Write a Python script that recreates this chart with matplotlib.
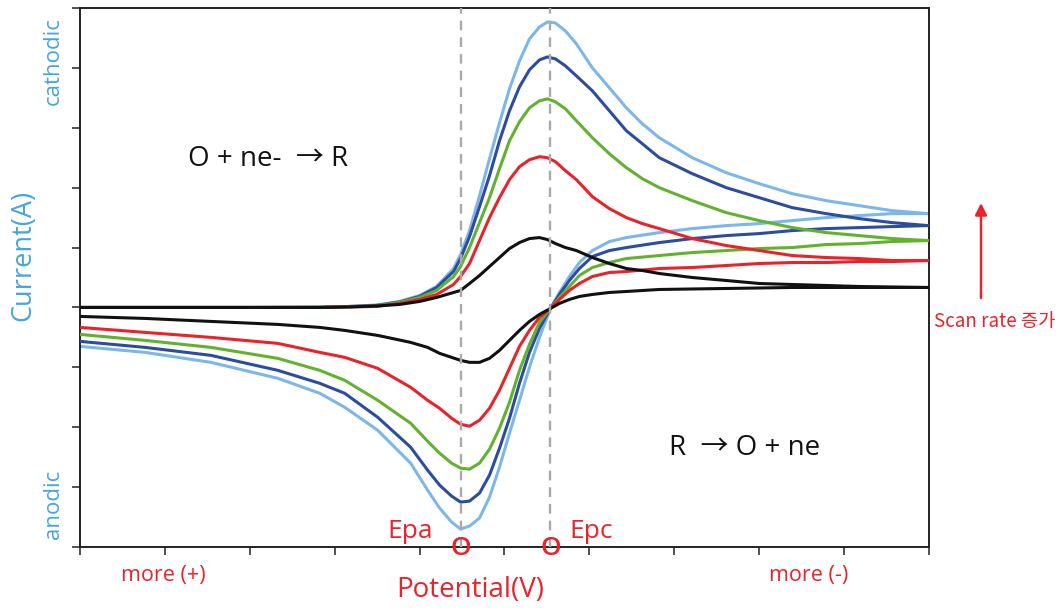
import matplotlib
matplotlib.use("Agg")
import matplotlib.pyplot as plt
from matplotlib.patches import FancyArrowPatch

plt.rcParams['font.family'] = ['Open Sans', 'Noto Sans CJK KR', 'DejaVu Sans']
plt.rcParams['lines.scale_dashes'] = False

# ---------------- data (arbitrary units) ----------------
# forward (cathodic) sweep: potential goes from "more (+)" (left) to "more (-)" (right)
potential_fwd = [0, 85, 170, 240, 270, 297, 320, 340, 357, 374, 381, 390, 400, 410, 420,
                 430, 440, 450, 460, 468, 476, 486, 497, 513, 530, 547, 563, 580, 613,
                 647, 680, 713, 747, 780, 813, 849]
fwd_rate5 = [0, 0, 0, 0.2, 1, 2.5, 6, 12, 21, 39, 53, 77, 112, 149, 185, 219, 247, 269,
             281, 286, 285, 277, 264, 240, 220, 200, 184, 170, 150, 135, 124, 114, 107,
             102, 97, 94]
fwd_rate4 = [0, 0, 0, 0.2, 1, 2, 5.5, 11, 20, 36, 49, 71, 101, 132, 167, 197, 221, 238,
             248, 251, 249, 242, 232, 217, 197, 177, 164, 150, 134, 120, 110, 100, 94,
             89, 85, 82]
fwd_rate3 = [0, 0, 0, 0.2, 0.8, 1.5, 5, 10, 17, 31, 41, 60, 85, 110, 139, 167, 186, 200,
             207, 209, 206, 199, 187, 170, 154, 140, 129, 120, 107, 95, 87, 80, 75,
             72, 69, 67]
fwd_rate2 = [0, 0, 0, 0, 0.5, 1, 4, 8, 13, 23, 31, 44, 67, 90, 110, 128, 141, 148,
             151, 150, 146, 137, 128, 111, 99, 90, 84, 79, 69, 62, 57, 52, 50,
             49, 47, 47]
fwd_rate1 = [0, 0, 0, 0, 0.5, 1.5, 3, 6, 10, 15, 17, 24, 32, 41, 50, 59, 65, 69,
             70, 68, 64, 60, 57, 50, 44, 39, 37, 34, 30, 27, 24, 23, 22,
             21, 20.5, 20]

# reverse (anodic) sweep
potential_rev = [0, 65, 131, 198, 240, 265, 298, 331, 348, 360, 372, 381, 390, 400, 410,
                 420, 430, 440, 450, 460, 471, 480, 490, 500, 513, 530, 547, 580, 613,
                 647, 680, 713, 747, 780, 813, 849]
rev_rate5 = [-39, -45, -55, -71, -86, -100, -123, -156, -183, -201, -215, -222, -219, -211,
             -190, -160, -126, -93, -60, -30, -1, 15, 31, 45, 57, 66, 70, 75, 79, 82,
             84, 87, 90, 92, 94, 94]
rev_rate4 = [-34, -40, -48, -63, -76, -86, -110, -140, -163, -178, -189, -195, -194, -186,
             -168, -141, -111, -76, -45, -21, -1, 13, 27, 39, 51, 57, 60, 65, 69, 72,
             74, 77, 79, 80, 81, 82]
rev_rate3 = [-27, -33, -40, -51, -63, -73, -93, -116, -134, -146, -156, -161, -162, -156,
             -142, -121, -95, -63, -37, -15, -1, 10, 21, 32, 40, 45, 49, 52, 55, 57,
             59, 60, 63, 64, 66, 67]
rev_rate2 = [-20, -25, -30, -36, -45, -50, -61, -80, -93, -101, -111, -117, -119, -113,
             -101, -83, -61, -39, -23, -10, -1, 8, 17, 24, 31, 35, 36, 39, 40, 42,
             44, 45, 45, 46, 46, 47]
rev_rate1 = [-9, -11, -14, -17, -20, -23, -28, -35, -40, -46, -50, -53, -55, -55,
             -51, -43, -33, -23, -14, -7, -1, 4, 8, 11, 13, 15, 16, 18, 18.5, 19,
             19.5, 20, 20, 20, 20, 20]

peak_potentials = [381, 471]          # Epa, Epc
peak_labels = ['Epa', 'Epc']
x_ticks = [0, 85, 170, 255, 340, 425, 510, 595, 680, 765, 850]
y_ticks = [-240, -180, -120, -60, 0, 60, 120, 180, 240, 300]

colors = {5: '#7db7e8', 4: '#2b4c9f', 3: '#62b22f', 2: '#e8232a', 1: '#111111'}

# ---------------- figure ----------------
fig = plt.figure(figsize=(10.63, 6.11), dpi=100)
ax = fig.add_axes([80 / 1063, 1 - 547 / 611, (929 - 80) / 1063, (547 - 8) / 611])

series = [(5, fwd_rate5, rev_rate5), (4, fwd_rate4, rev_rate4), (3, fwd_rate3, rev_rate3),
          (2, fwd_rate2, rev_rate2), (1, fwd_rate1, rev_rate1)]
z = 2
for k, f, r in series:
    ax.plot(potential_fwd, f, color=colors[k], lw=2.2, zorder=z,
            solid_joinstyle='round', solid_capstyle='round')
    ax.plot(potential_rev, r, color=colors[k], lw=2.2, zorder=z,
            solid_joinstyle='round', solid_capstyle='round')
    z += 1

for xp in peak_potentials:
    ax.axvline(xp, color='#aaaaaa', lw=1.7, dashes=(7, 5), zorder=10)

ax.set_xlim(0, 850)
ax.set_ylim(-240, 300)
ax.set_xticks(x_ticks)
ax.set_yticks(y_ticks)
ax.set_xticklabels([])
ax.set_yticklabels([])
ax.tick_params(direction='out', length=5.5, width=1.1, color='#222222')
for s in ax.spines.values():
    s.set_linewidth(1.4)
    s.set_color('#222222')

red_txt = '#e8232a'
blue_txt = '#45a5dd'

# peak markers on the axis
for xp in peak_potentials:
    ax.text(xp, -242, 'O', color=red_txt, fontsize=19, fontweight='semibold',
            ha='center', va='center', clip_on=False, zorder=12)
ax.text(331, -224, peak_labels[0], color=red_txt, fontsize=19, ha='center', va='center')
ax.text(512, -224, peak_labels[1], color=red_txt, fontsize=19, ha='center', va='center')

# reactions
ax.text(188, 149, 'O + ne-  → R', color='#111111', fontsize=20, ha='center', va='center')
ax.text(665, -141, 'R  → O + ne', color='#111111', fontsize=20, ha='center', va='center')

# axis labels and annotations
fig.text(23 / 1063, 1 - 255 / 611, 'Current(A)', color=blue_txt, fontsize=19.5,
         rotation=90, ha='center', va='center')
fig.text(53 / 1063, 1 - 61 / 611, 'cathodic', color=blue_txt, fontsize=16,
         rotation=90, ha='center', va='center')
fig.text(53 / 1063, 1 - 504 / 611, 'anodic', color=blue_txt, fontsize=16,
         rotation=90, ha='center', va='center')
fig.text(470 / 1063, 1 - 590 / 611, 'Potential(V)', color=red_txt, fontsize=20,
         ha='center', va='center')
fig.text(163 / 1063, 1 - 575 / 611, 'more (+)', color=red_txt, fontsize=15.5,
         ha='center', va='center')
fig.text(809 / 1063, 1 - 575 / 611, 'more (-)', color=red_txt, fontsize=15.5,
         ha='center', va='center')
fig.text(995 / 1063, 1 - 321 / 611, 'Scan rate 증가', color=red_txt, fontsize=13.5,
         ha='center', va='center', family=['Noto Sans CJK KR', 'DejaVu Sans'])
fig.patches.append(FancyArrowPatch(
    (981 / 1063, 1 - 298 / 611), (981 / 1063, 1 - 203 / 611),
    transform=fig.transFigure, arrowstyle='-|>,head_length=7,head_width=3.5',
    color=red_txt, lw=1.8, shrinkA=0, shrinkB=0))

fig.savefig('out.png', dpi=100)
